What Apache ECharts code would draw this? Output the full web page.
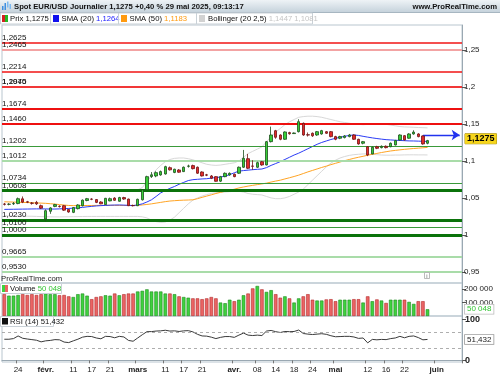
<!DOCTYPE html>
<html><head><meta charset="utf-8">
<script src="https://cdn.jsdelivr.net/npm/echarts@6/dist/echarts.min.js"></script>
<style>html,body{margin:0;padding:0;background:#fff}#c{width:500px;height:375px}</style>
</head><body><div id="c"></div>
<script>
// ---------- categories (weekdays from 21 Jan 2025) ----------
const dates = [];
(function () {
  const d = new Date(Date.UTC(2025, 0, 21));
  while (dates.length < 100) {
    const w = d.getUTCDay();
    if (w !== 0 && w !== 6) dates.push(d.toISOString().slice(0, 10));
    d.setUTCDate(d.getUTCDate() + 1);
  }
})();

const tickDates  = ['2025-01-24','2025-02-03','2025-02-11','2025-02-17','2025-02-21','2025-03-03','2025-03-11','2025-03-17','2025-03-21','2025-04-01','2025-04-08','2025-04-14','2025-04-18','2025-04-24','2025-05-01','2025-05-12','2025-05-16','2025-05-22','2025-06-02'];
const tickLabels = ['24','févr.','11','17','21','mars','11','17','21','avr.','08','14','18','24','mai','12','16','22','juin'];

// ---------- price data (21 Jan .. 29 May) ----------
const opens = [1.0418,1.0413,1.0420,1.0424,1.0488,1.0448,1.0430,1.0440,1.0395,1.0215,
1.0320,1.0385,1.0388,1.0395,1.0345,1.0305,1.0355,1.0395,1.0465,1.0485,
1.0478,1.0445,1.0410,1.0460,1.0498,1.0455,1.0505,1.0485,1.0398,1.0395,
1.0475,1.0610,1.0790,1.0797,1.0811,1.0824,1.0909,1.0845,1.0878,1.0856,
1.0928,1.0937,1.0915,1.0851,1.0812,1.0797,1.0788,1.0727,1.0788,1.0811,
1.0820,1.0834,1.0915,1.1031,1.0932,1.0915,1.0990,1.0946,1.1261,1.1409,
1.1351,1.1293,1.1383,1.1370,1.1396,1.1509,1.1355,1.1374,1.1351,1.1365,
1.1396,1.1396,1.1329,1.1307,1.1316,1.1329,1.1351,1.1293,1.1239,1.1193,
1.1095,1.1193,1.1180,1.1198,1.1193,1.1216,1.1284,1.1342,1.1307,1.1365,
1.1365,1.1338,1.1239];
const closes = [1.0414,1.0416,1.0425,1.0490,1.0443,1.0443,1.0428,1.0420,1.0362,1.0328,
1.0365,1.0410,1.0384,1.0335,1.0310,1.0370,1.0405,1.0470,1.0490,1.0482,
1.0440,1.0420,1.0495,1.0490,1.0468,1.0505,1.0485,1.0395,1.0395,1.0482,
1.0608,1.0788,1.0812,1.0842,1.0856,1.0923,1.0880,1.0888,1.0848,1.0915,
1.0932,1.0896,1.0834,1.0797,1.0808,1.0766,1.0725,1.0788,1.0833,1.0833,
1.0788,1.0915,1.1036,1.0901,1.0928,1.0977,1.0946,1.1261,1.1351,1.1320,
1.1293,1.1392,1.1368,1.1378,1.1531,1.1351,1.1350,1.1340,1.1396,1.1410,
1.1374,1.1329,1.1293,1.1329,1.1338,1.1351,1.1293,1.1230,1.1261,1.1081,
1.1185,1.1171,1.1198,1.1180,1.1239,1.1275,1.1351,1.1284,1.1365,1.1390,
1.1329,1.1230,1.1275];
const lows = [1.0398,1.0400,1.0405,1.0415,1.0430,1.0430,1.0410,1.0405,1.0350,1.0185,
1.0285,1.0375,1.0370,1.0325,1.0300,1.0295,1.0345,1.0385,1.0455,1.0470,
1.0430,1.0415,1.0405,1.0455,1.0460,1.0450,1.0475,1.0390,1.0385,1.0390,
1.0465,1.0600,1.0770,1.0780,1.0800,1.0815,1.0870,1.0835,1.0840,1.0850,
1.0910,1.0885,1.0825,1.0790,1.0795,1.0755,1.0720,1.0715,1.0780,1.0800,
1.0780,1.0825,1.0905,1.0890,1.0880,1.0905,1.0935,1.0940,1.1250,1.1300,
1.1280,1.1285,1.1355,1.1365,1.1385,1.1340,1.1330,1.1325,1.1340,1.1355,
1.1365,1.1320,1.1280,1.1295,1.1305,1.1320,1.1285,1.1220,1.1225,1.1065,
1.1090,1.1160,1.1170,1.1170,1.1185,1.1210,1.1275,1.1275,1.1300,1.1355,
1.1320,1.1220,1.1225];
const highs = [1.0432,1.0430,1.0445,1.0505,1.0520,1.0460,1.0445,1.0460,1.0410,1.0345,
1.0375,1.0420,1.0400,1.0405,1.0350,1.0375,1.0415,1.0480,1.0500,1.0495,
1.0485,1.0455,1.0500,1.0505,1.0510,1.0515,1.0515,1.0490,1.0410,1.0490,
1.0620,1.0800,1.0850,1.0860,1.0870,1.0935,1.0925,1.0895,1.0890,1.0925,
1.0950,1.0950,1.0925,1.0860,1.0825,1.0810,1.0795,1.0798,1.0845,1.0845,
1.0830,1.0925,1.1149,1.1095,1.1010,1.0990,1.1000,1.1270,1.1464,1.1420,
1.1360,1.1400,1.1395,1.1385,1.1564,1.1520,1.1385,1.1385,1.1405,1.1420,
1.1405,1.1405,1.1340,1.1340,1.1350,1.1365,1.1360,1.1300,1.1270,1.1200,
1.1195,1.1205,1.1210,1.1210,1.1250,1.1285,1.1360,1.1350,1.1375,1.1415,
1.1375,1.1345,1.1285];

const sma20 = [1.0345,1.0346,1.0347,1.0348,1.0349,1.0350,1.0351,1.0352,1.0352,1.0351,
1.0350,1.0350,1.0352,1.0355,1.0358,1.0362,1.0366,1.0372,1.0380,1.0386,
1.0392,1.0396,1.0399,1.0402,1.0404,1.0405,1.0403,1.0400,1.0397,1.0405,
1.0420,1.0445,1.0475,1.0520,1.0568,1.0600,1.0630,1.0655,1.0685,1.0710,
1.0735,1.0747,1.0752,1.0757,1.0760,1.0768,1.0776,1.0782,1.0795,1.0815,
1.0840,1.0862,1.0870,1.0876,1.0882,1.0887,1.0891,1.0910,1.0940,1.0965,
1.0991,1.1020,1.1050,1.1080,1.1105,1.1135,1.1165,1.1195,1.1225,1.1250,
1.1270,1.1290,1.1306,1.1320,1.1333,1.1345,1.1351,1.1345,1.1333,1.1322,
1.1312,1.1303,1.1295,1.1288,1.1284,1.1280,1.1277,1.1274,1.1271,1.1270,
1.1268,1.1266,1.1264];
const sma50 = [1.0448,1.0446,1.0444,1.0442,1.0440,1.0438,1.0435,1.0432,1.0430,1.0427,
1.0422,1.0417,1.0410,1.0404,1.0398,1.0396,1.0396,1.0397,1.0398,1.0398,
1.0399,1.0399,1.0400,1.0400,1.0400,1.0399,1.0398,1.0398,1.0398,1.0400,
1.0405,1.0412,1.0420,1.0430,1.0440,1.0450,1.0458,1.0463,1.0467,1.0470,
1.0472,1.0475,1.0490,1.0508,1.0525,1.0542,1.0560,1.0575,1.0590,1.0603,
1.0618,1.0635,1.0648,1.0660,1.0670,1.0680,1.0690,1.0700,1.0715,1.0728,
1.0740,1.0757,1.0773,1.0790,1.0808,1.0830,1.0852,1.0872,1.0892,1.0912,
1.0930,1.0950,1.0968,1.0986,1.1004,1.1020,1.1036,1.1050,1.1063,1.1077,
1.1090,1.1102,1.1114,1.1125,1.1135,1.1143,1.1150,1.1157,1.1163,1.1168,
1.1173,1.1178,1.1183];
const bollUpper = [1.0605,1.0604,1.0603,1.0602,1.0601,1.0600,1.0600,1.0599,1.0598,1.0597,
1.0596,1.0596,1.0595,1.0595,1.0595,1.0596,1.0597,1.0598,1.0598,1.0598,
1.0598,1.0598,1.0598,1.0599,1.0599,1.0600,1.0600,1.0600,1.0600,1.0610,
1.0640,1.0720,1.0800,1.0880,1.0940,1.0990,1.1020,1.1035,1.1040,1.1040,
1.1030,1.1015,1.0995,1.0975,1.0955,1.0945,1.0940,1.0945,1.0955,1.0965,
1.0975,1.1000,1.1050,1.1100,1.1130,1.1160,1.1190,1.1260,1.1330,1.1390,
1.1440,1.1490,1.1530,1.1560,1.1590,1.1600,1.1605,1.1605,1.1600,1.1590,
1.1575,1.1560,1.1545,1.1530,1.1520,1.1510,1.1500,1.1495,1.1490,1.1495,
1.1500,1.1500,1.1500,1.1495,1.1485,1.1475,1.1465,1.1460,1.1458,1.1455,
1.1452,1.1450,1.1447];
const bollLower = [1.0258,1.0257,1.0256,1.0255,1.0254,1.0253,1.0252,1.0250,1.0248,1.0246,
1.0245,1.0244,1.0244,1.0245,1.0246,1.0247,1.0248,1.0249,1.0250,1.0250,
1.0250,1.0250,1.0250,1.0250,1.0250,1.0250,1.0250,1.0250,1.0250,1.0250,
1.0245,1.0230,1.0200,1.0180,1.0170,1.0175,1.0200,1.0240,1.0300,1.0360,
1.0420,1.0470,1.0500,1.0525,1.0545,1.0560,1.0570,1.0575,1.0580,1.0585,
1.0590,1.0590,1.0580,1.0560,1.0550,1.0545,1.0540,1.0520,1.0500,1.0490,
1.0490,1.0500,1.0520,1.0550,1.0580,1.0620,1.0680,1.0740,1.0800,1.0860,
1.0920,1.0970,1.1010,1.1040,1.1060,1.1075,1.1085,1.1090,1.1095,1.1095,
1.1090,1.1085,1.1080,1.1078,1.1078,1.1080,1.1080,1.1082,1.1083,1.1083,
1.1082,1.1082,1.1081];

const volumes = [162000,151000,151000,156000,162000,156000,162000,156000,162000,167000,
162000,162000,154000,156000,146000,141000,162000,167000,151000,125000,
141000,146000,154000,151000,167000,154000,162000,167000,167000,182000,
187000,198000,182000,182000,182000,167000,167000,162000,146000,141000,
136000,131000,131000,125000,131000,141000,131000,100000,95000,121000,
110000,121000,154000,167000,205000,223000,198000,179000,192000,162000,
136000,146000,131000,100000,131000,146000,162000,121000,115000,115000,
123000,125000,110000,121000,121000,121000,125000,125000,100000,146000,
110000,123000,115000,97000,121000,121000,121000,121000,105000,90000,
110000,110000,50048];

const rsi = [51.9,51.9,53.5,60.0,54.3,52.5,51.0,49.5,45.5,48.0,
49.0,51.0,50.5,45.0,43.7,48.0,52.0,57.0,59.0,58.5,
55.0,53.0,59.0,58.5,55.5,59.0,57.5,49.0,47.0,55.0,
63.0,70.5,70.7,72.0,72.5,74.0,72.0,72.5,71.0,72.5,
73.0,70.0,64.0,60.0,59.5,57.0,53.5,56.5,58.5,58.5,
56.5,62.0,67.0,62.0,61.0,62.0,61.0,72.0,73.5,70.5,
68.5,71.0,70.5,71.0,74.5,66.0,64.5,63.5,64.5,65.5,
64.0,60.5,58.0,58.5,59.0,59.0,57.5,54.0,55.0,43.0,
51.5,50.5,51.5,51.0,53.5,55.0,59.0,55.5,59.0,60.0,
56.0,50.5,51.432];

// ---------- horizontal levels ----------
const resistanceLevels = [1.2625, 1.2465, 1.2214, 1.2045, 1.1970, 1.1674, 1.1460];
const supportLevels    = [1.1202, 1.1012, 1.0734, 1.0608, 1.0230, 1.0100, 1.0000, 0.9665, 0.9530];
const resistanceKinds  = ['strong','light','strong','light','strong','thick','thick'];
const supportKinds     = ['mid','light','mid','thick','thick','mid','thick','light','light'];

const priceTicks  = [0.95, 1, 1.05, 1.1, 1.15, 1.2, 1.25];
const volumeTicks = [100000, 200000];
const rsiTicks    = [0, 100];
const rsiBands    = [70, 30];

const lastPrice = 1.1275;
const lastVolume = 50048, lastRsi = 51.432;
const arrowLevel = 1.1351, arrowFrom = '2025-05-28', arrowTo = '2025-06-09';

// ---------- presentation ----------
const FONT = '"Liberation Sans", Arial, sans-serif';
const frFmt = (v, d) => (d === undefined ? String(+v.toFixed(4)) : v.toFixed(d)).replace('.', ',');
const spaceFmt = v => String(Math.round(v)).replace(/\B(?=(\d{3})+(?!\d))/g, ' ');
const levelStyle = {
  strong: { color: '#f01414', width: 1.6 },
  light:  { color: '#f3a3a3', width: 1.8 },
  thick:  { color: '#ee1010', width: 2.2 },
  mid:    { color: '#3a9a3a', width: 1.2 },
  lightg: { color: '#a9dca9', width: 1.8 },
  thickg: { color: '#0b730b', width: 3 }
};
function levelLine(v, kind, isSupport) {
  let st = levelStyle[kind];
  if (isSupport && kind === 'light') st = levelStyle.lightg;
  if (isSupport && kind === 'thick') st = levelStyle.thickg;
  return {
    yAxis: v,
    lineStyle: { color: st.color, width: st.width, type: 'solid' },
    label: { show: true, position: 'insideStartTop', distance: [0, 1], formatter: frFmt(v, 4),
             color: '#111', fontSize: 8, fontFamily: FONT }
  };
}
const levelData = resistanceLevels.map((v, i) => levelLine(v, resistanceKinds[i], false))
  .concat(supportLevels.map((v, i) => levelLine(v, supportKinds[i], true)));

const tickMap = {};
tickDates.forEach((d, i) => tickMap[d] = tickLabels[i]);

const candleData = opens.map((o, i) => [o, closes[i], lows[i], highs[i]]);
const volData = volumes.map((v, i) => ({
  value: v,
  itemStyle: closes[i] >= opens[i]
    ? { color: '#3ed23e', borderColor: '#1f8a1f', borderWidth: 0.6 }
    : { color: '#ea6464', borderColor: '#b32a2a', borderWidth: 0.6 }
}));

const hiddenLine = { color: 'rgba(0,0,0,0)', width: 0, opacity: 1 };
function endLabel(value, text, extra) {
  return { yAxis: value, lineStyle: hiddenLine,
    label: Object.assign({ show: true, position: 'end', distance: 3, formatter: text, fontFamily: FONT,
      padding: [1, 2, 0, 2], opacity: 1 }, extra) };
}

const chart = echarts.init(document.getElementById('c'), null, { renderer: 'canvas' });

const GL = 2, GW = 460;
const xBase = {
  type: 'category', data: dates, boundaryGap: true,
  axisLine: { show: false }, axisTick: { show: false }, axisLabel: { show: false },
  splitLine: { show: false }, axisPointer: { show: false }
};
const panelBorder = '#b9c6cf';
const F = 7.7;

chart.setOption({
  animation: false,
  backgroundColor: '#ffffff',
  textStyle: { fontFamily: FONT },
  grid: [
    { left: GL, width: GW, top: 25, height: 258, show: true, borderColor: panelBorder, borderWidth: 1, backgroundColor: 'transparent' },
    { left: GL, width: GW, top: 283, height: 33, show: true, borderColor: panelBorder, borderWidth: 1, backgroundColor: 'transparent' },
    { left: GL, width: GW, top: 316, height: 46, show: true, borderColor: panelBorder, borderWidth: 1, backgroundColor: 'transparent' }
  ],
  xAxis: [
    Object.assign({ gridIndex: 0 }, xBase),
    Object.assign({ gridIndex: 1 }, xBase),
    Object.assign({}, xBase, {
      gridIndex: 2,
      axisLine: { show: true, lineStyle: { color: '#9aa8b2' } },
      axisTick: { show: true, length: 3, interval: (i, v) => tickMap[v] !== undefined, lineStyle: { color: '#777' } },
      axisLabel: {
        show: true, interval: (i, v) => tickMap[v] !== undefined, margin: 4,
        fontSize: 8, color: '#222', fontFamily: FONT,
        formatter: v => { const t = tickMap[v] || ''; return /^\d+$/.test(t) ? t : '{b|' + t + '}'; },
        rich: { b: { fontWeight: 'bold', fontSize: 8, color: '#222', fontFamily: FONT } }
      }
    })
  ],
  yAxis: [
    { gridIndex: 0, type: 'value', position: 'right', min: 0.935, max: 1.2838,
      axisLine: { show: true, lineStyle: { color: '#9aa8b2' } },
      axisTick: { show: true, length: 4, customValues: priceTicks, lineStyle: { color: '#555' } },
      axisLabel: { show: true, customValues: priceTicks, margin: 2, fontSize: 8, color: '#222', fontFamily: FONT,
                   formatter: v => frFmt(v) },
      splitLine: { show: false } },
    { gridIndex: 1, type: 'value', position: 'right', min: 0, max: 245000,
      axisLine: { show: true, lineStyle: { color: '#9aa8b2' } },
      axisTick: { show: true, length: 4, customValues: volumeTicks, lineStyle: { color: '#555' } },
      axisLabel: { show: true, customValues: volumeTicks, margin: 2, fontSize: 8, color: '#222', fontFamily: FONT,
                   formatter: v => spaceFmt(v) },
      splitLine: { show: false } },
    { gridIndex: 2, type: 'value', position: 'right', min: -4, max: 109,
      axisLine: { show: true, lineStyle: { color: '#9aa8b2' } },
      axisTick: { show: true, length: 4, customValues: rsiTicks, lineStyle: { color: '#555' } },
      axisLabel: { show: true, customValues: rsiTicks, margin: 3, fontSize: 9, fontWeight: 'bold', color: '#222', fontFamily: FONT },
      splitLine: { show: false } }
  ],
  series: [
    { name: 'BollUp', type: 'line', xAxisIndex: 0, yAxisIndex: 0, data: bollUpper, symbol: 'none',
      lineStyle: { color: '#d8d8d8', width: 1 }, z: 2, silent: true },
    { name: 'BollLow', type: 'line', xAxisIndex: 0, yAxisIndex: 0, data: bollLower, symbol: 'none',
      lineStyle: { color: '#d8d8d8', width: 1 }, z: 2, silent: true },
    { name: 'Levels', type: 'line', xAxisIndex: 0, yAxisIndex: 0, data: [], z: 1,
      markLine: { silent: true, symbol: ['none', 'none'], animation: false, data: levelData } },
    { name: 'SMA50', type: 'line', xAxisIndex: 0, yAxisIndex: 0, data: sma50, symbol: 'none',
      lineStyle: { color: '#ffa424', width: 1 }, z: 3, silent: true },
    { name: 'SMA20', type: 'line', xAxisIndex: 0, yAxisIndex: 0, data: sma20, symbol: 'none',
      lineStyle: { color: '#2b3cf5', width: 1 }, z: 3, silent: true },
    { name: 'Prix', type: 'candlestick', xAxisIndex: 0, yAxisIndex: 0, data: candleData, barWidth: 3, z: 5,
      itemStyle: { color: '#37cf37', color0: '#e42a2a', borderColor: '#1d4f1d', borderColor0: '#6e1414', borderWidth: 0.8 } },
    { name: 'PriceLabel', type: 'line', xAxisIndex: 0, yAxisIndex: 0, data: [], z: 20,
      markLine: { silent: true, symbol: ['none', 'none'], animation: false,
        data: [endLabel(lastPrice, frFmt(lastPrice, 4), { color: '#000', fontSize: 9, fontWeight: 'bold',
          backgroundColor: '#f6d51c', borderColor: '#a08a10', borderWidth: 0.5 })] } },
    { name: 'Arrow', type: 'line', xAxisIndex: 0, yAxisIndex: 0, data: [], z: 6,
      markLine: { silent: true, animation: false, symbolSize: 8,
        lineStyle: { color: '#2233ee', width: 1.3, type: 'solid' }, label: { show: false },
        data: [
          [{ coord: [arrowFrom, lastPrice], symbol: 'none' }, { coord: [arrowFrom, arrowLevel], symbol: 'none' }],
          [{ coord: [arrowFrom, arrowLevel], symbol: 'none' }, { coord: [arrowTo, arrowLevel], symbol: 'arrow' }]
        ] } },
    { name: 'Volume', type: 'bar', xAxisIndex: 1, yAxisIndex: 1, data: volData, barWidth: '76%' },
    { name: 'VolLabel', type: 'line', xAxisIndex: 1, yAxisIndex: 1, data: [], z: 20,
      markLine: { silent: true, symbol: ['none', 'none'], animation: false,
        data: [endLabel(lastVolume, spaceFmt(lastVolume), { color: '#33c433', fontSize: 8,
          backgroundColor: '#fff', borderColor: '#bbb', borderWidth: 0.8 })] } },
    { name: 'RSI', type: 'line', xAxisIndex: 2, yAxisIndex: 2, data: rsi, symbol: 'none',
      lineStyle: { color: '#3a3a3a', width: 1 },
      markLine: { silent: true, symbol: ['none', 'none'], animation: false,
        data: rsiBands.map(b => ({ yAxis: b, lineStyle: { color: '#9a9a9a', width: 0.8, type: [3, 3] }, label: { show: false } })) } },
    { name: 'RsiLabel', type: 'line', xAxisIndex: 2, yAxisIndex: 2, data: [], z: 20,
      markLine: { silent: true, symbol: ['none', 'none'], animation: false,
        data: [endLabel(lastRsi, frFmt(lastRsi, 3), { color: '#222', fontSize: 8,
          backgroundColor: '#fff', borderColor: '#999', borderWidth: 0.8 })] } }
  ],
  graphic: [
    // title bar
    { type: 'rect', shape: { x: 0, y: 0, width: 500, height: 12 }, z: 10,
      style: { fill: new echarts.graphic.LinearGradient(0, 0, 0, 1, [{ offset: 0, color: '#eef3f6' }, { offset: 1, color: '#c6d3dc' }]) } },
    { type: 'line', shape: { x1: 0, y1: 12.5, x2: 500, y2: 12.5 }, style: { stroke: '#a7b6c1', lineWidth: 1 }, z: 10 },
    { type: 'rect', shape: { x: 2, y: 6, width: 1.5, height: 4 }, style: { fill: '#3f8fe0' }, z: 11 },
    { type: 'rect', shape: { x: 4.5, y: 3, width: 1.5, height: 7 }, style: { fill: '#3f8fe0' }, z: 11 },
    { type: 'rect', shape: { x: 7, y: 1.5, width: 1.5, height: 6 }, style: { fill: '#7cb9f0' }, z: 11 },
    { type: 'rect', shape: { x: 9.5, y: 4, width: 1.5, height: 5 }, style: { fill: '#7cb9f0' }, z: 11 },
    { type: 'text', x: 14, y: 6.5, z: 11,
      style: { text: 'Spot EUR/USD Journalier 1,1275 +0,40 % 29 mai 2025, 09:13:17', font: 'bold ' + F + 'px ' + FONT, fill: '#111', textVerticalAlign: 'middle' } },
    { type: 'text', x: 497, y: 6.5, z: 11,
      style: { text: 'www.ProRealTime.com', font: 'bold ' + F + 'px ' + FONT, fill: '#111', textAlign: 'right', textVerticalAlign: 'middle' } },
    // legend row
    { type: 'rect', shape: { x: 0.5, y: 13, width: 312, height: 11 }, style: { fill: '#ffffff', stroke: '#c9d1d7', lineWidth: 1 }, z: 10 },
    { type: 'rect', shape: { x: 2, y: 15, width: 3, height: 7 }, style: { fill: '#d42020' }, z: 11 },
    { type: 'rect', shape: { x: 5, y: 15, width: 3, height: 7 }, style: { fill: '#22b822' }, z: 11 },
    { type: 'text', x: 10, y: 18.8, z: 11, style: { text: 'Prix 1,1275', font: F + 'px ' + FONT, fill: '#111', textVerticalAlign: 'middle' } },
    { type: 'line', shape: { x1: 50.5, y1: 13, x2: 50.5, y2: 24 }, style: { stroke: '#c9d1d7' }, z: 11 },
    { type: 'rect', shape: { x: 53, y: 15, width: 6, height: 7 }, style: { fill: '#1010ee' }, z: 11 },
    { type: 'text', x: 61.5, y: 18.8, z: 11, style: { rich: { t: { fill: '#111' }, v: { fill: '#2222ff' } }, text: '{t|SMA (20) }{v|1,1264}', font: F + 'px ' + FONT, textVerticalAlign: 'middle' } },
    { type: 'line', shape: { x1: 118.5, y1: 13, x2: 118.5, y2: 24 }, style: { stroke: '#c9d1d7' }, z: 11 },
    { type: 'rect', shape: { x: 121, y: 15, width: 6, height: 7 }, style: { fill: '#ff9a10' }, z: 11 },
    { type: 'text', x: 129.5, y: 18.8, z: 11, style: { rich: { t: { fill: '#111' }, v: { fill: '#ff9a10' } }, text: '{t|SMA (50) }{v|1,1183}', font: F + 'px ' + FONT, textVerticalAlign: 'middle' } },
    { type: 'line', shape: { x1: 196.5, y1: 13, x2: 196.5, y2: 24 }, style: { stroke: '#c9d1d7' }, z: 11 },
    { type: 'rect', shape: { x: 199, y: 15, width: 6, height: 7 }, style: { fill: '#d2d2d2' }, z: 11 },
    { type: 'text', x: 208, y: 18.8, z: 11, style: { rich: { t: { fill: '#111' }, v: { fill: '#c4c4c4' } }, text: '{t|Bollinger (20 2,5) }{v|1,1447 1,1081}', font: F + 'px ' + FONT, textVerticalAlign: 'middle' } },
    // watermark text & info icon
    { type: 'text', x: 1, y: 278.5, z: 11, style: { text: 'ProRealTime.com', font: F + 'px ' + FONT, fill: '#222', textVerticalAlign: 'middle' } },
    { type: 'rect', shape: { x: 424.5, y: 272.5, width: 5, height: 6 }, style: { fill: '#fff', stroke: '#aaa', lineWidth: 0.8 }, z: 11 },
    { type: 'text', x: 427, y: 276, z: 12, style: { text: 'i', font: '6px ' + FONT, fill: '#666', textAlign: 'center', textVerticalAlign: 'middle' } },
    // volume legend
    { type: 'rect', shape: { x: 0.5, y: 283.5, width: 61, height: 10 }, style: { fill: '#fff', stroke: '#c9d1d7', lineWidth: 1 }, z: 10 },
    { type: 'rect', shape: { x: 2, y: 285, width: 3, height: 7 }, style: { fill: '#3ed23e' }, z: 11 },
    { type: 'rect', shape: { x: 5, y: 285, width: 3, height: 7 }, style: { fill: '#ea6464' }, z: 11 },
    { type: 'text', x: 10, y: 288.8, z: 11, style: { rich: { t: { fill: '#111' }, v: { fill: '#33c433' } }, text: '{t|Volume }{v|50 048}', font: F + 'px ' + FONT, textVerticalAlign: 'middle' } },
    // RSI legend
    { type: 'rect', shape: { x: 0.5, y: 316.5, width: 53, height: 10 }, style: { fill: '#fff', stroke: '#c9d1d7', lineWidth: 1 }, z: 10 },
    { type: 'rect', shape: { x: 2, y: 318, width: 6, height: 6.5 }, style: { fill: '#111' }, z: 11 },
    { type: 'text', x: 10, y: 321.8, z: 11, style: { text: 'RSI (14) 51,432', font: F + 'px ' + FONT, fill: '#111', textVerticalAlign: 'middle' } }
  ]
});
</script>
</body></html>
